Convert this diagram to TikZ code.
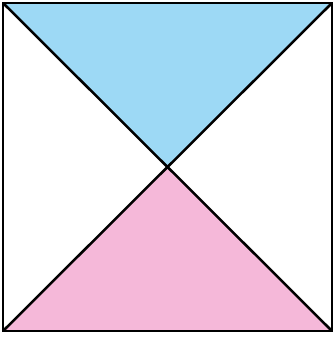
\documentclass[tikz,border=0pt]{standalone}
\definecolor{lblue}{HTML}{9DD9F5}
\definecolor{lpink}{HTML}{F5B8D9}
\begin{document}
\begin{tikzpicture}[x=1pt,y=-1pt,edge/.style={line width=2.5pt,line join=miter}]
\useasboundingbox (0,0) rectangle (336,339);
\coordinate (tl) at (3,3);
\coordinate (tr) at (332,3);
\coordinate (bl) at (3,331);
\coordinate (br) at (332,331);
\coordinate (c) at (167.5,167);
\fill[lblue] (tl) -- (tr) -- (c) -- cycle;
\fill[lpink] (bl) -- (br) -- (c) -- cycle;
\draw[edge] (tl) -- (br);
\draw[edge] (tr) -- (bl);
\draw[edge] (tl) rectangle (br);
\end{tikzpicture}
\end{document}
